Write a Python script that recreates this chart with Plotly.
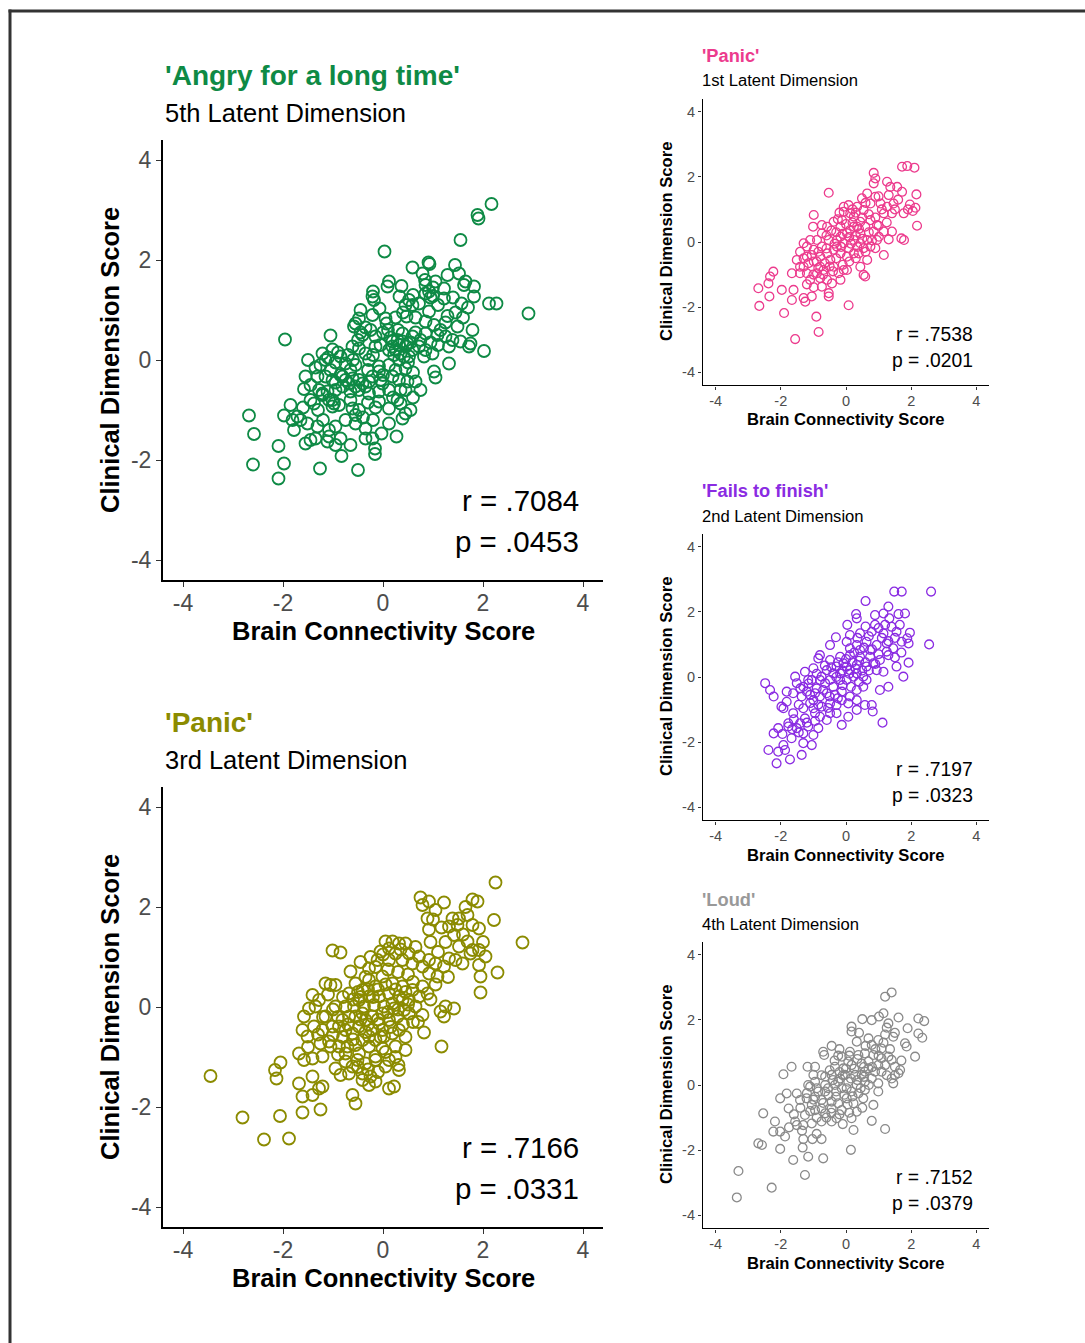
import plotly.graph_objects as go

W, H = 1085, 1343

# ---------------- data ----------------
ticks = [-4, -2, 0, 2, 4]
tick_text = ["-4", "-2", "0", "2", "4"]

angry_pts = [
    (2.17, 3.12), (1.89, 2.9), (1.91, 2.83), (1.55, 2.4), (0.03, 2.17), (0.59, 1.85), (0.91, 1.95),
    (0.93, 1.92), (1.44, 1.9), (0.79, 1.73), (1.29, 1.7), (1.52, 1.73), (1.65, 1.57), (1.82, 1.47),
    (1.62, 1.5), (0.12, 1.57), (0.09, 1.47), (0.37, 1.48), (0.84, 1.6), (1.05, 1.57), (1.22, 1.43),
    (-0.2, 1.37), (-0.21, 1.27), (-0.18, 1.2), (0.33, 1.27), (0.92, 1.37), (0.85, 1.33), (1.0, 1.28),
    (1.22, 1.23), (1.82, 1.27), (0.52, 1.2), (0.45, 1.1), (0.59, 1.1), (0.72, 1.13), (1.57, 1.13),
    (2.12, 1.13), (2.27, 1.13), (-0.07, 1.03), (-0.45, 1.0), (-0.21, 0.9), (0.92, 0.97), (1.29, 0.88),
    (2.91, 0.93), (0.05, 0.83), (-0.48, 0.83), (-0.55, 0.73), (-0.58, 0.67), (0.07, 0.73), (0.47, 0.87),
    (0.85, 0.77), (1.02, 0.7), (1.25, 0.75), (1.49, 0.67), (1.79, 0.6), (-1.05, 0.49), (-1.96, 0.41),
    (-0.41, 0.5), (-0.15, 0.47), (0.39, 0.53), (0.59, 0.47), (0.85, 0.53), (1.09, 0.5), (1.25, 0.47),
    (1.39, 0.4), (1.55, 0.37), (1.75, 0.33), (1.72, 0.27), (2.02, 0.18), (1.32, 0.27), (0.19, 0.37),
    (0.32, 0.3), (0.45, 0.27), (0.12, 0.2), (0.59, 0.2), (0.72, 0.27), (0.85, 0.2), (-0.61, 0.27),
    (-0.48, 0.23), (-0.35, 0.13), (-0.15, 0.27), (-1.21, 0.13), (-1.01, 0.21), (-0.85, 0.07),
    (-1.15, 0.0), (-1.25, -0.1), (-0.75, -0.07), (-0.55, -0.1), (-0.28, 0.0), (-0.08, -0.13),
    (0.12, -0.1), (0.32, 0.0), (0.45, -0.17), (0.52, 0.07), (0.82, 0.07), (0.99, 0.13), (1.02, -0.23),
    (1.05, -0.35), (1.32, -0.07), (-1.55, -0.33), (-1.31, -0.33), (-1.58, -0.58), (-1.45, -0.5),
    (-1.15, -0.33), (-1.01, -0.4), (-0.81, -0.33), (-0.68, -0.47), (-0.48, -0.4), (-0.35, -0.53),
    (-0.21, -0.33), (-0.08, -0.23), (-0.01, -0.47), (0.19, -0.33), (0.32, -0.4), (0.49, -0.43),
    (0.65, -0.43), (0.45, -0.6), (0.12, -0.6), (-0.08, -0.63), (-0.28, -0.67), (-0.48, -0.6),
    (-0.65, -0.63), (-0.81, -0.53), (-1.28, -0.6), (-1.21, -0.7), (-1.08, -0.8), (-1.01, -0.93),
    (-0.88, -0.9), (-1.38, -0.87), (-0.61, -0.97), (-0.48, -1.0), (-0.55, -1.1), (-0.08, -0.83),
    (0.12, -0.97), (0.29, -0.8), (0.35, -0.87), (0.55, -1.0), (0.45, -1.07), (0.39, -1.17),
    (-1.98, -1.11), (-1.81, -1.2), (-1.71, -1.13), (-1.65, -1.2), (-1.78, -1.4), (-1.51, -1.27),
    (-1.31, -1.33), (-1.08, -1.4), (-0.95, -1.33), (0.12, -1.27), (-0.55, -1.27), (-0.35, -1.37),
    (-1.55, -1.67), (-1.45, -1.6), (-1.35, -1.57), (-1.11, -1.63), (-1.08, -1.53), (-0.85, -1.57),
    (-0.65, -1.7), (-0.35, -1.57), (-0.21, -1.57), (-0.03, -1.47), (0.27, -1.53), (-0.16, -1.77),
    (-0.16, -1.88), (-0.83, -1.92), (-2.68, -1.11), (-2.58, -1.48), (-2.09, -1.72), (-2.6, -2.09),
    (-1.98, -2.07), (-2.09, -2.37), (-1.26, -2.17), (-0.5, -2.2),
    (0.19, 0.27), (0.29, 0.4), (0.39, 0.37), (0.49, 0.33), (0.25, 0.2), (0.35, 0.13), (0.22, 0.1),
    (0.42, 0.07), (-0.75, -0.4), (-0.61, -0.37), (-0.41, -0.47), (-0.28, -0.43), (-0.85, -0.3),
    (-0.55, -0.53), (-1.01, -0.8), (-0.98, -0.87), (-1.21, -0.67), (-1.11, -0.63), (-0.95, -0.6),
    (-1.1, 0.05), (-0.95, -0.05), (-1.05, -0.2), (-0.9, 0.15), (-0.7, 0.1), (-0.6, 0.0), (-0.45, 0.55),
    (-0.35, 0.65), (-0.5, 0.4), (-0.25, 0.6), (0.0, 0.55), (0.1, 0.6), (0.15, 0.45), (0.3, 0.6),
    (0.55, 0.35), (0.65, 0.55), (0.75, 0.4), (0.95, 0.35), (1.1, 0.3), (1.15, 0.6), (0.95, 1.25),
    (1.1, 1.1), (0.85, 1.5), (1.0, 1.45), (0.6, 1.3), (0.4, 0.95), (0.25, 0.85), (0.65, 0.85),
    (-0.05, 0.3), (-0.2, 0.1), (0.0, -0.3), (0.25, -0.2), (0.6, -0.25), (0.75, -0.6), (0.6, -0.75),
    (0.2, -0.75), (-0.15, -0.95), (-0.3, -0.85), (-0.65, -0.8), (-0.75, -1.2), (-0.4, -1.15),
    (-0.2, -1.2), (-1.3, -1.0), (-1.45, -0.8), (-1.6, -0.95), (-1.85, -0.9), (-1.2, -1.2),
    (-0.95, -1.7), (1.45, 0.95), (1.6, 0.85), (1.4, 1.25), (1.7, 1.05), (0.5, -0.05), (0.35, -0.6),
    (-0.05, -0.4), (-0.3, -0.2), (-0.65, -0.2), (-0.95, -0.45), (-1.35, -0.15), (-1.5, 0.0),
]

panic3_pts = [
    (2.25, 2.49), (0.75, 2.19), (0.92, 2.11), (0.79, 2.04), (1.22, 2.09), (1.05, 1.94), (1.79, 2.15),
    (1.89, 2.11), (1.69, 1.84), (1.39, 1.77), (1.52, 1.77), (1.32, 1.61), (1.49, 1.64), (1.92, 1.57),
    (1.79, 1.64), (2.22, 1.74), (0.89, 1.77), (0.92, 1.55), (1.17, 1.59), (1.42, 1.44), (2.79, 1.29),
    (1.69, 1.31), (1.52, 1.21), (1.79, 1.14), (1.92, 1.14), (2.05, 1.01), (1.75, 1.07), (1.32, 0.97),
    (1.45, 0.94), (1.59, 0.87), (1.92, 0.84), (1.95, 0.61), (2.29, 0.69), (1.95, 0.29), (-1.01, 1.13),
    (-0.85, 1.09), (-0.65, 0.71), (0.05, 1.31), (0.19, 1.31), (0.32, 1.27), (0.12, 1.17), (0.45, 1.27),
    (-0.05, 1.11), (0.25, 1.07), (0.52, 1.07), (0.72, 1.01), (0.92, 0.94), (1.05, 0.87), (1.22, 0.81),
    (-0.28, 0.77), (-0.11, 0.94), (0.12, 0.94), (0.39, 0.94), (0.59, 0.87), (0.79, 0.81), (0.92, 0.67),
    (1.09, 0.61), (-1.15, 0.47), (-1.05, 0.44), (-0.95, 0.44), (-1.41, 0.24), (-1.28, 0.14),
    (-1.48, -0.03), (-1.58, -0.19), (-1.35, 0.01), (-1.15, -0.19), (-0.95, 0.01), (-0.75, 0.01),
    (-0.55, 0.47), (-0.41, 0.34), (-0.28, 0.54), (-0.15, 0.41), (-0.01, 0.61), (0.19, 0.47), (0.39, 0.41),
    (0.59, 0.34), (0.79, 0.41), (0.89, 0.27), (0.72, 0.21), (0.52, 0.14), (0.32, 0.21), (0.12, 0.27),
    (-0.08, 0.21), (-0.28, 0.21), (-0.48, 0.14), (-0.68, 0.27), (-0.58, 0.01), (-0.38, 0.01),
    (-0.18, 0.04), (0.02, 0.01), (0.22, -0.03), (0.42, -0.06), (0.65, 0.01), (0.79, -0.16), (0.82, -0.51),
    (1.15, -0.09), (1.25, 0.01), (1.42, -0.03), (1.22, -0.19), (1.17, -0.79), (-1.61, -0.46),
    (-1.38, -0.39), (-1.51, -0.59), (-1.25, -0.73), (-1.08, -0.69), (-1.05, -0.79), (-0.81, -0.26),
    (-0.75, -0.46), (-0.61, -0.53), (-0.48, -0.39), (-0.35, -0.26), (-0.21, -0.46), (-0.08, -0.33),
    (0.12, -0.26), (0.29, -0.19), (0.32, -0.46), (0.19, -0.53), (0.02, -0.59), (-0.15, -0.66),
    (-0.41, -0.66), (-0.55, -0.76), (-0.71, -0.79), (-0.88, -0.79), (-0.28, -0.79), (-0.01, -0.83),
    (0.25, -0.79), (0.45, -0.86), (-1.68, -0.93), (-1.58, -1.06), (-1.41, -1.03), (-1.21, -0.99),
    (-2.05, -1.11), (-2.16, -1.26), (-2.13, -1.43), (-3.45, -1.38), (-0.95, -1.23), (-0.85, -1.36),
    (-0.75, -1.09), (-0.61, -1.19), (-0.51, -1.06), (-0.41, -1.33), (-0.25, -1.39), (-0.15, -1.49),
    (-0.28, -1.56), (-0.41, -1.46), (0.12, -1.06), (0.32, -1.26), (0.31, -1.16), (0.12, -1.63),
    (0.22, -1.59), (-1.68, -1.53), (-1.41, -1.39), (-1.28, -1.63), (-1.21, -1.59), (-1.61, -1.79),
    (-1.41, -1.76), (-0.61, -1.76), (-0.55, -1.93), (-1.25, -2.05), (-1.61, -2.11), (-2.06, -2.18),
    (-2.81, -2.21), (-2.38, -2.65), (-1.88, -2.63),
    (-0.55, -0.19), (-0.41, -0.13), (-0.21, -0.19), (-0.01, -0.13), (0.19, 0.07), (0.39, 0.14),
    (0.52, -0.13), (-0.68, -0.19), (-0.88, -0.39), (-0.01, -0.46), (-0.28, -0.59), (-0.48, -0.93),
    (-0.15, -0.99), (-0.75, -0.93), (-1.01, -0.39), (-1.21, -0.46), (-0.15, -1.06), (-0.35, -1.13),
    (0.05, -1.19), (-0.68, -1.33),
    (-0.45, 0.2), (-0.3, 0.35), (-0.2, 0.2), (-0.1, 0.35), (0.05, 0.45), (0.25, 0.35), (0.45, 0.3),
    (0.6, 0.5), (0.5, 0.65), (0.3, 0.7), (0.1, 0.75), (-0.15, 0.8), (-0.35, 0.6), (-0.5, 0.3),
    (-0.6, 0.15), (-0.8, 0.2), (-1.0, -0.05), (-1.1, 0.25), (-0.9, -0.2), (-0.7, -0.35), (-0.45, -0.25),
    (-0.3, -0.35), (-0.1, -0.25), (0.1, -0.1), (0.3, -0.05), (0.5, 0.05), (0.6, -0.3), (0.4, -0.35),
    (0.15, -0.4), (-0.05, -0.6), (-0.35, -0.5), (-0.6, -0.65), (-0.8, -0.6), (-1.0, -0.55), (-1.2, -0.2),
    (-1.3, -0.55), (-0.5, -1.2), (-0.3, -1.25), (-0.1, -1.3), (0.05, -0.9), (0.25, -1.0), (0.45, -0.6),
    (0.7, -0.3), (0.95, 0.15), (1.05, 0.45), (1.3, 0.6), (1.1, 1.1), (1.25, 1.3), (0.95, 1.3),
    (0.65, 1.2), (0.35, 1.15), (0.0, 1.05), (-0.25, 1.0), (-0.45, 0.9), (1.6, 1.45), (2.0, 1.3),
    (1.65, 2.0), (1.0, 1.75), (-0.9, -0.95), (-1.5, -0.8),
]

panic1_pts = [
    (-0.53, 1.51), (0.85, 2.12), (0.90, 1.95), (0.85, 1.80), (1.72, 2.31), (1.88, 2.33), (2.10, 2.28),
    (1.26, 1.85), (1.36, 1.69), (1.57, 1.69), (1.72, 1.54), (2.16, 1.46), (1.31, 1.44), (0.65, 1.49),
    (0.49, 1.34), (0.90, 1.39), (0.75, 1.18), (1.06, 1.18), (1.46, 1.18), (1.96, 1.15), (2.13, 1.05),
    (1.77, 0.88), (1.26, 1.08), (1.41, 0.88), (1.16, 0.88), (2.18, 0.50), (1.70, 0.11), (1.78, 0.06),
    (1.31, 0.08), (1.41, 0.32), (1.16, 0.32), (1.16, -0.40), (0.90, -0.19), (1.01, 0.16), (0.85, 0.32),
    (0.95, 0.52), (0.75, 0.67), (0.54, 0.98), (0.34, 1.08), (0.08, 1.13), (-0.07, 0.93), (0.24, 0.78),
    (0.44, 0.62), (0.59, 0.47), (0.44, 0.27), (0.65, 0.06), (0.54, -0.19), (0.39, -0.35), (0.65, -0.55),
    (0.44, -0.76), (0.54, -1.01), (0.59, -1.06), (0.03, -0.86), (-0.07, -0.86), (-0.17, -1.16),
    (0.24, 0.06), (0.03, 0.27), (-0.17, 0.47), (-0.38, 0.62), (-0.58, 0.47), (-0.74, 0.27), (-0.53, 0.06),
    (-0.28, 0.06), (-0.07, -0.04), (0.08, -0.19), (-0.17, -0.35), (-0.38, -0.24), (-0.58, -0.35),
    (-0.79, -0.45), (-0.99, -0.24), (-1.30, -0.04), (-1.41, -0.30), (-1.20, -0.45), (-0.99, -0.60),
    (-1.30, -0.76), (-1.20, -0.96), (-1.41, -0.96), (-1.10, -1.16), (-0.89, -0.96), (-0.69, -0.86),
    (-0.58, -1.16), (-0.79, -1.11), (-0.74, -1.37), (-0.99, -1.39), (-0.43, -1.27), (-0.53, -1.57),
    (-0.53, -1.67), (-1.05, -1.67), (-1.30, -1.72), (-1.25, -1.83), (-1.66, -0.96), (-1.61, -1.47),
    (-1.66, -1.78), (-1.97, -1.47), (-2.23, -0.91), (-2.33, -1.06), (-2.38, -1.27), (-2.69, -1.42),
    (-2.35, -1.67), (-2.66, -1.96), (-1.90, -2.18), (-0.91, -2.29), (-0.84, -2.76), (-1.56, -2.98),
    (0.08, -1.94), (-0.07, 1.08), (-0.99, 0.83), (-1.01, 0.47), (-0.74, 0.52),
    (-0.17, 0.16), (0.13, 0.37), (0.34, 0.47), (-0.28, -0.14), (0.24, -0.35), (0.03, -0.45),
    (-0.48, -0.55), (-0.74, -0.14), (-1.10, 0.06), (-1.20, -0.14), (0.44, -0.04), (0.75, -0.14),
    (0.95, 0.06), (0.24, 0.47), (-0.12, 0.67), (0.13, 0.88), (-0.38, -0.76), (-0.23, -0.96),
    (-0.79, -0.76), (-1.51, -0.55), (-1.41, -0.76), (-0.89, 0.06),
    (-0.3, 0.3), (-0.1, 0.25), (0.1, 0.15), (0.3, 0.2), (0.5, 0.1), (0.2, 0.6), (0.0, 0.55),
    (-0.25, 0.7), (-0.45, 0.35), (-0.6, 0.2), (-0.35, -0.05), (-0.15, -0.15), (0.15, -0.05),
    (0.35, -0.15), (0.1, -0.6), (-0.3, -0.5), (-0.6, -0.2), (-0.85, -0.3), (-1.05, -0.4), (-1.15, -0.65),
    (-0.9, -0.6), (-0.65, -0.65), (-0.4, -0.9), (-0.7, -1.0), (-1.0, -1.0), (-1.3, -0.5), (0.3, 0.9),
    (0.5, 0.75), (0.7, 0.85), (0.9, 0.75), (1.0, 0.5), (1.1, 1.0), (1.25, 0.6), (1.5, 1.0), (1.6, 1.3),
    (1.0, 1.4), (0.6, 1.2), (0.2, 1.0), (0.4, 0.4), (0.7, 0.3), (0.8, 0.05), (0.6, -0.3), (0.3, -0.5),
    (-0.1, -0.7), (-0.5, -0.75), (-0.85, -0.8), (-1.2, -1.3), (-0.2, 0.9), (1.9, 1.0), (2.05, 0.95),
]

fails_pts = [
    (1.48, 2.62), (1.71, 2.62), (2.61, 2.62), (0.60, 2.33), (1.30, 2.16), (0.31, 1.93), (0.33, 1.80),
    (0.89, 1.90), (1.15, 1.95), (1.61, 1.93), (1.81, 1.95), (1.33, 1.80), (0.89, 1.60), (1.40, 1.54),
    (0.04, 1.60), (2.55, 1.00), (1.96, 1.36), (1.88, 1.19), (1.71, 1.08), (1.92, 1.03), (1.55, 1.39),
    (1.15, 1.34), (0.79, 1.39), (0.43, 1.34), (0.12, 1.29), (-0.31, 1.22), (-0.49, 0.98), (0.02, 1.08),
    (0.33, 0.98), (0.63, 1.08), (0.94, 0.98), (1.25, 1.03), (1.45, 0.88), (1.25, 0.78), (1.30, 0.67),
    (1.92, 0.44), (1.55, 0.32), (1.76, 0.01), (1.30, -0.30), (1.04, -0.40), (1.12, -1.40),
    (-0.80, 0.67), (-0.85, 0.57), (-0.49, 0.52), (-0.18, 0.62), (0.12, 0.67), (0.43, 0.62), (0.74, 0.62),
    (1.04, 0.52), (1.15, 0.16), (0.94, 0.21), (0.63, 0.32), (0.33, 0.37), (0.02, 0.32), (-0.29, 0.32),
    (-0.39, 0.11), (-1.00, 0.27), (-1.26, 0.16), (-1.56, 0.01), (-2.48, -0.19), (-2.33, -0.40),
    (-2.22, -0.60), (-1.82, -0.45), (-1.51, -0.19), (-1.31, -0.30), (-1.05, -0.09), (-0.75, 0.01),
    (-0.64, -0.19), (-0.90, -0.35), (-1.10, -0.55), (-1.36, -0.60), (-1.62, -0.50), (-1.82, -0.76),
    (-1.98, -0.91), (-1.92, -0.96), (-1.62, -1.11), (-1.31, -0.96), (-1.00, -0.96), (-0.75, -0.91),
    (-0.49, -0.81), (-0.29, -0.86), (-0.13, -0.71), (0.12, -0.60), (0.33, -0.40), (0.53, -0.30),
    (0.02, -0.09), (0.23, 0.01), (0.53, 0.01), (-0.18, -0.09), (-0.39, -0.30), (-0.59, -0.50),
    (-0.80, -0.60), (-0.13, -0.45), (0.07, -0.81), (0.33, -1.01), (0.58, -0.86), (0.79, -0.86),
    (0.82, -1.06), (0.07, -1.22), (-0.13, -1.47), (-0.59, -1.32), (-0.80, -1.22), (-0.95, -1.11),
    (-1.26, -1.27), (-1.41, -1.42), (-1.77, -1.42), (-1.77, -1.52), (-2.08, -1.57), (-2.22, -1.73),
    (-1.51, -1.57), (-1.16, -1.52), (-0.85, -1.57), (-1.00, -1.78), (-1.31, -1.73), (-1.67, -1.88),
    (-1.92, -2.09), (-1.05, -2.09), (-1.31, -2.03), (-2.38, -2.24), (-2.08, -2.29), (-1.87, -2.24),
    (-2.13, -2.65), (-1.72, -2.53), (-1.36, -2.39),
    (0.12, 0.21), (0.33, 0.11), (-0.18, 0.11), (-0.59, 0.21), (-0.80, -0.09), (-0.49, -0.09),
    (0.63, -0.09), (0.84, 0.42), (0.74, 0.83), (0.43, 0.83), (0.12, 0.88), (-0.08, 0.42),
    (-0.34, -0.55), (-1.00, -0.71), (-0.49, -1.11), (-1.16, -0.09), (-0.29, -1.11), (0.33, -0.71),
    (0.2, 0.45), (0.4, 0.5), (0.6, 0.45), (0.5, 0.2), (0.3, 0.25), (0.1, 0.1), (-0.1, 0.2), (-0.3, 0.0),
    (-0.1, -0.25), (0.15, -0.3), (0.4, -0.15), (0.7, 0.2), (0.9, 0.4), (1.0, 0.7), (0.8, 0.85),
    (0.55, 0.9), (0.25, 0.75), (0.0, 0.55), (-0.25, 0.45), (-0.45, 0.3), (-0.65, 0.35), (-0.9, 0.1),
    (-1.15, -0.2), (-1.4, -0.35), (-1.2, -0.45), (-0.95, -0.5), (-0.7, -0.4), (-0.5, -0.6),
    (-0.25, -0.65), (-0.55, -0.95), (-0.85, -0.85), (-1.1, -0.8), (-1.45, -0.85), (-1.6, -1.3),
    (-1.2, -1.4), (-0.95, -1.35), (-1.45, -1.7), (-1.65, -1.6), (-1.95, -1.75), (1.1, 1.2), (1.3, 1.1),
    (1.5, 1.2), (1.65, 1.6), (1.2, 1.6), (1.0, 1.5), (0.6, 1.55), (0.35, 1.2), (0.7, 1.25), (1.5, 0.6),
    (1.7, 0.75),
]

loud_pts = [
    (1.40, 2.84), (1.20, 2.71), (0.50, 2.02), (0.79, 1.99), (1.01, 2.10), (1.15, 2.20), (1.61, 2.07),
    (2.22, 2.04), (2.40, 1.96), (1.89, 1.74), (1.30, 1.89), (1.25, 1.76), (0.17, 1.79), (0.17, 1.64),
    (1.20, 1.55), (1.45, 1.48), (2.22, 1.58), (2.34, 1.45), (1.81, 1.28), (1.86, 1.18), (2.12, 0.87),
    (0.33, 1.33), (0.69, 1.43), (0.99, 1.38), (0.79, 1.23), (1.09, 1.12), (-0.44, 1.20), (-0.70, 1.02),
    (-0.67, 0.92), (-0.24, 0.90), (0.12, 1.02), (0.38, 0.92), (0.58, 0.97), (0.84, 0.92), (1.09, 0.82),
    (1.30, 0.87), (1.40, 0.77), (1.50, 0.56), (1.66, 0.46), (1.61, 0.36), (1.40, 0.20), (1.45, 0.05),
    (0.99, 0.61), (0.69, 0.51), (0.48, 0.66), (0.17, 0.61), (-0.08, 0.51), (-0.34, 0.56), (-1.67, 0.56),
    (-1.18, 0.56), (-0.95, 0.56), (-1.92, 0.33), (-1.00, 0.31), (-0.64, 0.26), (-0.44, 0.31),
    (-0.18, 0.20), (0.07, 0.10), (0.33, 0.00), (0.58, 0.10), (0.79, 0.20), (0.99, 0.05), (0.99, -0.20),
    (0.84, -0.61), (0.79, -1.10), (1.20, -1.35), (0.38, -0.26), (0.53, -0.41), (0.17, -0.20),
    (-0.13, -0.10), (-0.34, 0.00), (-0.64, 0.00), (-0.95, 0.10), (-1.10, -0.05), (-2.02, -0.41),
    (-1.82, -0.26), (-1.51, -0.26), (-1.41, -0.46), (-1.76, -0.72), (-1.21, -0.41), (-0.95, -0.36),
    (-0.75, -0.46), (-0.54, -0.31), (-0.31, -0.36), (0.02, -0.41), (0.23, -0.56), (0.33, -0.82),
    (0.17, -1.02), (0.23, -1.38), (-0.13, -0.77), (-0.44, -0.72), (-0.64, -0.87), (-0.95, -0.77),
    (-1.26, -0.92), (-1.56, -1.12), (-1.51, -1.23), (-1.31, -1.23), (-1.05, -1.18), (-0.75, -1.12),
    (-0.44, -1.12), (-0.29, -1.02), (-2.54, -0.87), (-2.18, -1.12), (-2.23, -1.43), (-2.02, -1.43),
    (-1.87, -1.58), (-2.69, -1.79), (-2.58, -1.84), (-1.31, -1.66), (-1.03, -1.66), (-0.75, -1.66),
    (-2.02, -1.96), (-1.33, -1.92), (-1.16, -2.20), (-1.62, -2.30), (-0.70, -2.25), (0.15, -1.99),
    (-3.30, -2.64), (-1.26, -2.76), (-2.28, -3.15), (-3.35, -3.45),
    (-0.24, 0.10), (-0.03, 0.31), (0.28, 0.31), (0.48, 0.31), (-0.64, -0.20), (-0.85, -0.20),
    (-0.44, -0.51), (-0.24, -0.56), (-1.05, -0.61), (-0.75, -0.72), (0.58, 0.41), (0.89, 0.41),
    (1.09, 0.41), (0.69, 0.72), (1.20, 0.61), (0.07, 0.72), (-0.13, 0.87), (-1.16, 0.00),
    (0.02, -0.10), (0.58, -0.15),
    (-0.1, 0.3), (0.15, 0.2), (0.35, 0.15), (0.55, 0.25), (0.25, 0.5), (0.0, 0.5), (-0.2, 0.4),
    (-0.4, 0.15), (-0.55, -0.1), (-0.3, -0.2), (-0.05, -0.3), (0.2, -0.35), (0.45, -0.1), (0.7, 0.0),
    (0.8, 0.55), (0.55, 0.55), (0.35, 0.8), (0.1, 0.9), (-0.35, 0.75), (-0.5, 0.45), (-0.75, 0.3),
    (-0.9, -0.1), (-1.2, -0.25), (-1.0, -0.45), (-0.7, -0.55), (-0.45, -0.85), (-0.2, -0.9), (-0.6, -1.0),
    (-0.9, -1.0), (-1.1, -0.8), (-1.4, -0.7), (-1.6, -0.9), (-0.1, -1.2), (0.05, -0.6), (0.9, 1.1),
    (1.15, 1.3), (1.35, 1.1), (1.0, 0.9), (1.25, 0.3), (1.5, 0.3), (1.7, 0.75), (1.5, 1.6), (0.6, 1.2),
    (0.4, 1.6), (-0.2, 1.1), (-1.35, -1.4), (-1.75, -1.3), (-0.9, -1.5), (0.5, -0.7), (0.1, -0.85),
]

panels = [
    dict(pts=angry_pts, color="#0E8A45", title="'Angry for a long time'", sub="5th Latent Dimension",
         r="r = .7084", p="p = .0453", big=True, box=(163, 603, 140, 580), title_y=76, sub_y=113,
         r_y=500, p_y=541, xt_y=631),
    dict(pts=panic3_pts, color="#8B8B00", title="'Panic'", sub="3rd Latent Dimension",
         r="r = .7166", p="p = .0331", big=True, box=(163, 603, 787, 1227), title_y=722, sub_y=760,
         r_y=1147, p_y=1188, xt_y=1278),
    dict(pts=panic1_pts, color="#EC3B8D", title="'Panic'", sub="1st Latent Dimension",
         r="r = .7538", p="p = .0201", big=False, box=(702.6, 989.4, 98.6, 385.4), title_y=55, sub_y=80,
         r_y=334, p_y=360, xt_y=419),
    dict(pts=fails_pts, color="#8A2BE2", title="'Fails to finish'", sub="2nd Latent Dimension",
         r="r = .7197", p="p = .0323", big=False, box=(702.6, 989.4, 533.6, 820.4), title_y=491, sub_y=516,
         r_y=769, p_y=795, xt_y=855),
    dict(pts=loud_pts, color="#8A8A8A", title="'Loud'", sub="4th Latent Dimension",
         r="r = .7152", p="p = .0379", big=False, box=(702.6, 989.4, 941.6, 1228.4), title_y=899, sub_y=924,
         r_y=1177, p_y=1203, xt_y=1263),
]

title_colors = ["#0E8A45", "#8B8B00", "#EC3B8D", "#8A2BE2", "#999999"]

FONT = "Liberation Sans, Arial, Helvetica, sans-serif"


def px(xp):
    return xp / W


def py(yp):
    return 1 - yp / H


fig = go.Figure()
layout = dict(
    width=W, height=H, margin=dict(l=0, r=0, t=0, b=0),
    paper_bgcolor="white", plot_bgcolor="white", showlegend=False,
    font=dict(family=FONT, color="black"),
)
annotations = []

for i, pn in enumerate(panels, start=1):
    big = pn["big"]
    x0, x1, y0, y1 = pn["box"]
    s = 1.0 if big else 0.652
    xs = [a for a, b in pn["pts"]]
    ys = [b for a, b in pn["pts"]]
    xa = "x" if i == 1 else f"x{i}"
    ya = "y" if i == 1 else f"y{i}"
    fig.add_trace(go.Scatter(
        x=xs, y=ys, mode="markers", xaxis=xa, yaxis=ya,
        marker=dict(symbol="circle-open", size=12 if big else 8.8, color=pn["color"],
                    line=dict(width=1.8 if big else 1.3, color=pn["color"])),
        hoverinfo="skip",
    ))
    axcommon = dict(
        range=[-4.4, 4.4], tickvals=ticks, ticktext=tick_text, showgrid=False, zeroline=False,
        showline=True, linecolor="black", linewidth=2 if big else 1.4,
        ticks="outside", ticklen=5 if big else 3.5, tickwidth=1.4 if big else 1.0, tickcolor="#333333",
        tickfont=dict(family=FONT, size=23 if big else 14.5, color="#4D4D4D"), fixedrange=True,
    )
    xax = dict(axcommon, domain=[px(x0), px(x1)], anchor=ya, ticklabelstandoff=-4 if big else -2)
    yax = dict(axcommon, domain=[py(y1), py(y0)], anchor=xa)
    layout["xaxis" if i == 1 else f"xaxis{i}"] = xax
    layout["yaxis" if i == 1 else f"yaxis{i}"] = yax

    cx = (x0 + x1) / 2
    cy = (y0 + y1) / 2
    tl = 165 if big else 702
    annotations.append(dict(text=f"<b>{pn['title']}</b>", x=px(tl - 2), y=py(pn["title_y"]), xref="paper",
                            yref="paper", xanchor="left", yanchor="middle", showarrow=False,
                            font=dict(size=28 * s, color=title_colors[i - 1], family=FONT)))
    annotations.append(dict(text=pn["sub"], x=px(tl - 2), y=py(pn["sub_y"]), xref="paper", yref="paper",
                            xanchor="left", yanchor="middle", showarrow=False,
                            font=dict(size=25.5 * s, color="black", family=FONT)))
    rx = 580 if big else 974
    rsize = 29.5 if big else 19.3
    for key, yy in (("r", pn["r_y"]), ("p", pn["p_y"])):
        annotations.append(dict(text=pn[key], x=px(rx + 1), y=py(yy), xref="paper", yref="paper",
                                xanchor="right", yanchor="middle", showarrow=False,
                                font=dict(size=rsize, color="black", family=FONT)))
    annotations.append(dict(text="<b>Brain Connectivity Score</b>", x=px(cx), y=py(pn["xt_y"]),
                            xref="paper", yref="paper", xanchor="center", yanchor="middle",
                            showarrow=False, font=dict(size=25.5 * s, color="black", family=FONT)))
    ytx = 110 if big else 666
    annotations.append(dict(text="<b>Clinical Dimension Score</b>", x=px(ytx), y=py(cy),
                            xref="paper", yref="paper", xanchor="center", yanchor="middle",
                            textangle=-90, showarrow=False,
                            font=dict(size=25.5 * s, color="black", family=FONT)))

layout["annotations"] = annotations
layout["shapes"] = [
    dict(type="line", xref="paper", yref="paper", x0=px(8.5), x1=1, y0=py(11), y1=py(11),
         line=dict(color="#333333", width=3)),
    dict(type="line", xref="paper", yref="paper", x0=px(10), x1=px(10), y0=py(9.5), y1=0,
         line=dict(color="#333333", width=3)),
]
fig.update_layout(**layout)
fig.write_html("out.html")
